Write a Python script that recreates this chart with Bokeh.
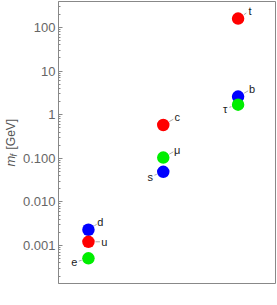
import math
from bokeh.plotting import figure
from bokeh.models import ColumnDataSource, FixedTicker, Range1d, Label
from bokeh.embed import file_html
from bokeh.resources import INLINE
from bokeh.core.properties import value

# ---- data ----
particles = ["d", "u", "e", "s", "c", "μ", "b", "t", "τ"]
generation = [1, 1, 1, 2, 2, 2, 3, 3, 3]
mass_gev = [0.0023, 0.00122, 0.00051, 0.049, 0.58, 0.104, 2.6, 160.0, 1.7]
kind = ["down", "up", "lepton", "down", "up", "lepton", "down", "up", "lepton"]
y_ticks = [0.001, 0.01, 0.1, 1, 10, 100]
y_tick_labels = ["0.001", "0.010", "0.100", "1", "10", "100"]

# ---- style ----
kind_color = {"up": "#ff0000", "down": "#0000ff", "lepton": "#00ee00"}
# label offsets in screen px (dx right, dy up)
label_off = {"d": (12, 8), "u": (16, 0), "e": (-14, -4),
             "s": (-13, -5), "c": (14, 8), "μ": (14, 8),
             "b": (14, 8), "t": (12, 8), "τ": (-13, -4)}

FW, FH = 217, 282
X0, X1 = 0.6, 3.5
Y0, Y1 = 1.35e-4, 394.0
ppx = FW / (X1 - X0)
ppd = FH / (math.log10(Y1) - math.log10(Y0))

p = figure(frame_width=FW, frame_height=FH, y_axis_type="log",
           x_range=Range1d(X0, X1), y_range=Range1d(Y0, Y1),
           x_axis_location=None, output_backend="svg", toolbar_location=None,
           min_border_left=58, min_border_right=2, min_border_top=1,
           min_border_bottom=22)
p.grid.visible = False
p.outline_line_color = "#888888"
p.outline_line_width = 1
p.background_fill_color = "white"
p.border_fill_color = "white"

minor = [k * 10.0 ** e for e in range(-4, 3) for k in range(2, 10)]
ax = p.yaxis[0]
ax.ticker = FixedTicker(ticks=y_ticks, minor_ticks=minor)
ax.major_label_overrides = {t: l for t, l in zip(y_ticks, y_tick_labels)}
ax.major_tick_in = 4
ax.major_tick_out = 0
ax.minor_tick_in = 2
ax.minor_tick_out = 0
ax.major_label_standoff = 3
ax.axis_line_color = "#888888"
ax.major_tick_line_color = "#888888"
ax.minor_tick_line_color = "#888888"
ax.major_label_text_font = "Liberation Sans"
ax.major_label_text_font_size = "13px"
ax.major_label_text_color = "#666666"

# points
src = ColumnDataSource(dict(x=generation, y=mass_gev,
                            c=[kind_color[k] for k in kind]))
p.scatter("x", "y", source=src, size=12.5, fill_color="c", line_color=None)

# labels and leader lines
sx0, sy0, sx1, sy1, tx, ty = [], [], [], [], [], []
for name, g, m in zip(particles, generation, mass_gev):
    dx, dy = label_off[name]
    d = math.hypot(dx, dy)
    ux, uy = dx / d, dy / d
    lm = math.log10(m)
    sx0.append(g + ux * 7 / ppx); sy0.append(10 ** (lm + uy * 7 / ppd))
    sx1.append(g + ux * (d - 4.5) / ppx); sy1.append(10 ** (lm + uy * (d - 4.5) / ppd))
    tx.append(g + dx / ppx); ty.append(10 ** (lm + dy / ppd))
p.segment(sx0, sy0, sx1, sy1, line_color="#aaaaaa", line_width=1)
p.text(tx, ty, text=particles, text_align="center", text_baseline="middle",
       text_font=value("Liberation Sans"), text_font_size="11px",
       text_color="#1a1a1a")

# axis label  m_f [GeV]  (placed in side panels so it is not clipped)
def img_y(py):
    return 10 ** (math.log10(Y1) - (py - 1) / ppd)

for txt, py, xo, fs, st, side in [("m", 166, -48, "13px", "italic", "left"),
                                  ("f", 156, -45, "9px", "italic", "below"),
                                  ("[GeV]", 149, -48, "12px", "normal", "below")]:
    p.add_layout(Label(x=X0, y=img_y(py), x_offset=xo, text=txt,
                       angle=math.pi / 2, text_align="left",
                       text_baseline="middle", text_font="Liberation Sans",
                       text_font_size=fs, text_font_style=st,
                       text_color="#555555"), side)

open("out.html", "w").write(file_html(p, INLINE))
